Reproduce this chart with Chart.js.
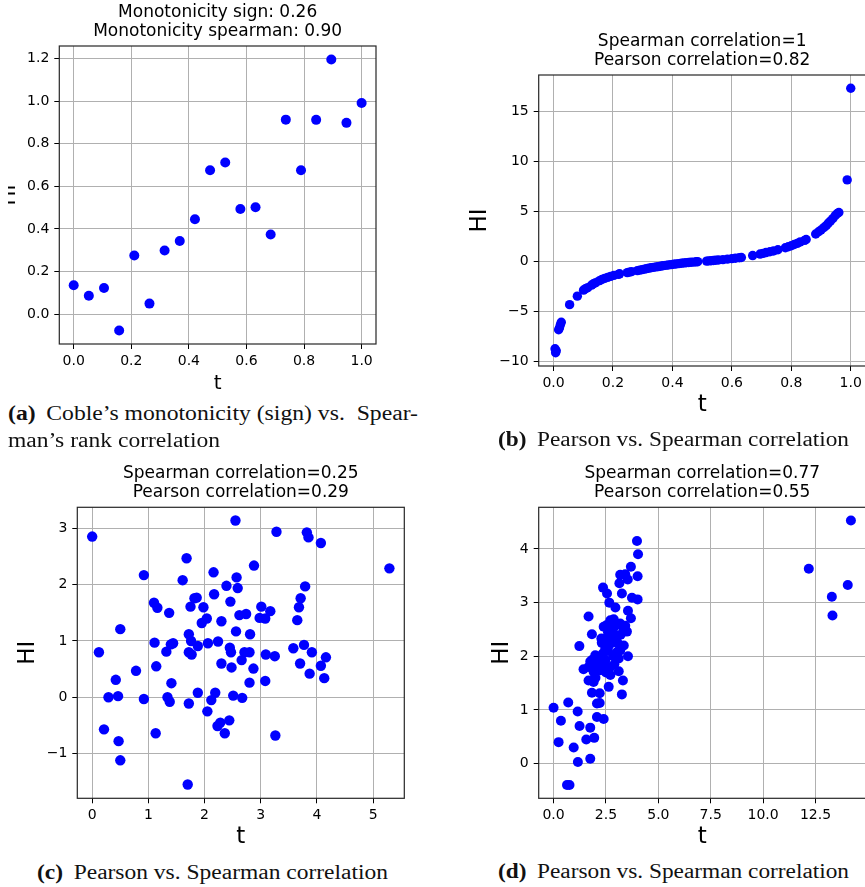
<!DOCTYPE html>
<html>
<head>
<meta charset="utf-8">
<script src="https://cdn.jsdelivr.net/npm/chart.js@4/dist/chart.umd.min.js"></script>
<style>
  html, body { margin:0; padding:0; background:#fff; }
  body { width:865px; height:887px; overflow:hidden; position:relative; }
  canvas { position:absolute; }
  .wrap { position:absolute; overflow:hidden; }
  .cap { position:absolute; white-space:nowrap; font-family:"Liberation Serif", "DejaVu Serif", serif; font-size:20px; line-height:20px; color:#111; transform-origin:0 0; }
  .cap b { margin-right:9px; }
</style>
</head>
<body>
<div class="wrap" style="left:8px;top:0;width:420px;height:400px;">
  <canvas id="cA" width="420" height="400" style="left:-8px;top:0;"></canvas>
</div>
<canvas id="cB" width="470" height="400" style="left:440px;top:30px;"></canvas>
<canvas id="cC" width="440" height="420" style="left:0;top:440px;"></canvas>
<canvas id="cD" width="470" height="420" style="left:440px;top:440px;"></canvas>

<div class="cap" data-w="410" style="left:8px;top:403px;"><b>(a)</b>Coble’s monotonicity (sign) vs.&nbsp; Spear-</div>
<div class="cap" data-w="212" style="left:8px;top:430px;">man’s rank correlation</div>
<div class="cap" data-w="351" style="left:498px;top:429px;"><b>(b)</b>Pearson vs. Spearman correlation</div>
<div class="cap" data-w="351" style="left:37px;top:862px;"><b>(c)</b>Pearson vs. Spearman correlation</div>
<div class="cap" data-w="351" style="left:498px;top:861px;"><b>(d)</b>Pearson vs. Spearman correlation</div>

<script>
// ---------- Panel (a) ----------
const aTitle = ["Monotonicity sign: 0.26", "Monotonicity spearman: 0.90"];
const aT  = [0, 0.0526, 0.1053, 0.1579, 0.2105, 0.2632, 0.3158, 0.3684, 0.4211, 0.4737, 0.5263, 0.5789, 0.6316, 0.6842, 0.7368, 0.7895, 0.8421, 0.8947, 0.9474, 1.0];
const aHI = [0.136, 0.087, 0.123, -0.076, 0.276, 0.050, 0.299, 0.344, 0.446, 0.676, 0.712, 0.494, 0.502, 0.374, 0.913, 0.676, 0.912, 1.195, 0.898, 0.991];
const aXTicks = [0, 0.2, 0.4, 0.6, 0.8, 1.0];
const aXTickLabels = ["0.0", "0.2", "0.4", "0.6", "0.8", "1.0"];
const aYTicks = [0, 0.2, 0.4, 0.6, 0.8, 1.0, 1.2];
const aYTickLabels = ["0.0", "0.2", "0.4", "0.6", "0.8", "1.0", "1.2"];

// ---------- Panel (b) ----------
const bTitle = ["Spearman correlation=1", "Pearson correlation=0.82"];
const bT = [0.005,0.007,0.009,0.017,0.020,0.023,0.026,0.054,0.080,0.101,
  0.108,0.115,0.128,0.135,0.142,0.155,0.163,0.172,0.182,0.192,
  0.203,0.218,0.222,0.248,0.255,0.262,0.282,0.290,0.298,0.306,
  0.313,0.320,0.328,0.336,0.345,0.352,0.360,0.368,0.377,0.386,
  0.395,0.404,0.412,0.421,0.430,0.438,0.446,0.455,0.463,0.472,
  0.480,0.485,0.515,0.522,0.530,0.538,0.546,0.555,0.570,0.585,
  0.600,0.612,0.625,0.632,0.670,0.695,0.705,0.715,0.728,0.740,
  0.755,0.780,0.790,0.800,0.810,0.820,0.830,0.845,0.850,0.882,
  0.892,0.900,0.910,0.918,0.925,0.932,0.940,0.948,0.955,0.960,
  0.988,1.0];
const bHI = [-8.7,-9.1,-8.9,-6.8,-6.6,-6.3,-6.05,-4.3,-3.45,-2.85,
  -2.7,-2.6,-2.35,-2.2,-2.1,-1.9,-1.78,-1.68,-1.58,-1.48,
  -1.38,-1.28,-1.22,-1.1,-1.05,-1.0,-0.9,-0.85,-0.8,-0.75,
  -0.7,-0.66,-0.62,-0.58,-0.53,-0.5,-0.46,-0.42,-0.38,-0.34,
  -0.3,-0.27,-0.24,-0.2,-0.17,-0.14,-0.12,-0.09,-0.07,-0.05,
  -0.02,-0.01,0.05,0.07,0.09,0.11,0.13,0.16,0.2,0.25,
  0.3,0.34,0.38,0.41,0.6,0.75,0.82,0.9,0.98,1.06,
  1.18,1.38,1.48,1.58,1.7,1.82,1.96,2.12,2.2,2.75,
  2.98,3.15,3.4,3.6,3.85,4.05,4.3,4.6,4.8,4.9,
  8.15,17.3];
const bXTicks = [0, 0.2, 0.4, 0.6, 0.8, 1.0];
const bXTickLabels = ["0.0", "0.2", "0.4", "0.6", "0.8", "1.0"];
const bYTicks = [-10, -5, 0, 5, 10, 15];
const bYTickLabels = ["\u221210", "\u22125", "0", "5", "10", "15"];

// ---------- Panel (c) ----------
const cTitle = ["Spearman correlation=0.25", "Pearson correlation=0.29"];
const cT = [0.00,0.12,0.21,0.29,0.42,0.46,0.47,0.50,0.50,0.78,
  0.92,0.92,1.10,1.11,1.16,1.14,1.13,1.32,1.37,1.34,
  1.38,1.41,1.40,1.44,1.61,1.68,1.72,1.72,1.75,1.76,
  1.77,1.72,1.70,1.82,1.86,1.88,1.88,1.98,1.95,2.04,
  2.06,2.05,2.16,2.17,2.19,2.12,2.24,2.23,2.28,2.30,
  2.30,2.36,2.39,2.44,2.46,2.45,2.47,2.48,2.51,2.55,
  2.57,2.59,2.56,2.62,2.66,2.67,2.74,2.71,2.81,2.80,
  2.87,2.80,2.88,3.01,2.98,3.08,3.09,3.08,3.17,3.25,
  3.28,3.26,3.58,3.65,3.68,3.71,3.70,3.77,3.79,3.82,
  3.85,3.87,3.91,4.07,4.07,4.16,4.13,5.29];
const cHI = [2.855,0.80,-0.57,0.00,0.31,0.02,-0.78,1.21,-1.12,0.47,
  2.17,-0.03,1.68,0.97,1.59,0.55,-0.64,0.81,1.50,0.00,
  -0.08,0.25,0.94,0.96,2.08,2.47,1.12,0.80,1.61,1.00,
  0.76,-0.11,-1.55,1.76,1.77,0.91,0.08,1.60,1.32,1.40,
  0.96,-0.25,2.22,1.83,0.08,-0.05,0.99,-0.51,-0.45,1.35,
  0.60,-0.64,1.98,-0.41,1.70,0.88,0.80,0.53,0.03,3.14,
  2.13,1.94,1.17,1.46,0.66,-0.01,1.48,0.80,1.12,0.80,
  0.51,0.26,2.34,1.61,1.41,1.40,0.76,0.29,1.53,0.73,
  2.94,-0.68,0.87,1.37,1.60,1.76,0.60,0.93,1.97,2.93,
  2.84,0.42,0.80,2.74,0.56,0.71,0.34,2.29];
const cXTicks = [0, 1, 2, 3, 4, 5];
const cXTickLabels = ["0", "1", "2", "3", "4", "5"];
const cYTicks = [-1, 0, 1, 2, 3];
const cYTickLabels = ["\u22121", "0", "1", "2", "3"];

// ---------- Panel (d) ----------
const dTitle = ["Spearman correlation=0.77", "Pearson correlation=0.55"];
const dT = [3.98,4.03,3.69,3.18,3.42,3.54,4.01,3.14,2.36,2.55,
  3.26,3.74,4.01,2.66,2.95,3.55,1.67,3.69,2.71,2.87,
  2.52,3.18,2.39,3.42,3.50,1.83,2.79,2.95,2.28,2.55,
  2.79,2.66,3.06,1.23,2.47,3.18,3.03,3.55,1.99,2.07,
  2.47,3.11,1.83,1.43,1.67,1.99,2.23,2.71,3.11,1.91,
  2.71,1.67,1.91,3.31,2.63,1.83,2.20,3.26,2.07,2.20,
  0.00,0.70,1.15,2.07,2.39,0.35,1.24,1.75,1.94,1.56,
  0.24,0.96,1.75,1.16,0.64,0.76,
  2.35,2.60,2.90,3.00,2.45,2.85,3.20,2.10,1.90,2.00,
  2.30,2.75,3.30,2.15,2.60,1.75,3.35,2.50,2.90,
  12.18,13.28,13.31,14.04,14.19];
const dHI = [4.15,3.90,3.67,3.52,3.53,3.43,3.49,3.36,3.28,3.17,
  3.17,3.09,3.06,3.00,2.91,2.85,2.74,2.71,2.67,2.69,
  2.58,2.61,2.55,2.57,2.46,2.41,2.43,2.39,2.33,2.35,
  2.27,2.21,2.24,2.19,2.15,2.11,2.08,2.00,2.02,1.99,
  1.93,1.96,1.93,1.76,1.80,1.83,1.74,1.80,1.72,1.71,
  1.65,1.55,1.52,1.55,1.43,1.32,1.31,1.29,1.12,1.13,
  1.04,1.14,0.97,0.87,0.83,0.80,0.70,0.67,0.48,0.45,
  0.40,0.30,0.09,0.03,-0.40,-0.40,
  2.05,2.45,2.55,2.30,1.85,2.00,2.40,1.90,1.85,1.60,
  2.25,2.50,2.55,1.75,2.10,1.90,2.20,1.70,1.85,
  3.63,3.11,2.76,3.33,4.53];
const dXTicks = [0, 2.5, 5, 7.5, 10, 12.5];
const dXTickLabels = ["0.0", "2.5", "5.0", "7.5", "10.0", "12.5"];
const dYTicks = [0, 1, 2, 3, 4];
const dYTickLabels = ["0", "1", "2", "3", "4"];

const xLabel = "t";
const yLabel = "HI";

// ---------- drawing helpers ----------
const textPlugin = {
  id: 'figText',
  afterDraw(chart, args, o) {
    const ctx = chart.ctx, ca = chart.chartArea;
    ctx.save();
    ctx.strokeStyle = '#262626';
    ctx.lineWidth = 1.2;
    ctx.strokeRect(ca.left, ca.top, ca.right - ca.left, ca.bottom - ca.top);
    ctx.fillStyle = '#000';
    ctx.textAlign = 'center';
    ctx.textBaseline = 'middle';
    const cx = (ca.left + ca.right) / 2;
    ctx.font = '17px "DejaVu Sans"';
    o.title.forEach((line, i) => ctx.fillText(line, cx, ca.top + o.titleY[i]));
    ctx.font = o.labelSize + 'px "DejaVu Sans"';
    ctx.fillText(o.xLabel, cx, ca.bottom + o.xLabelDy);
    ctx.translate(ca.left + o.yLabelDx, (ca.top + ca.bottom) / 2);
    ctx.rotate(-Math.PI / 2);
    ctx.fillText(o.yLabel, 0, 0);
    ctx.restore();
  }
};

function axis(min, max, ticks, labels, isX) {
  return {
    type: 'linear', min: min, max: max,
    afterBuildTicks: s => { s.ticks = ticks.map(v => ({ value: v })); },
    afterFit: s => {
      if (isX) s.height = 30; else s.width = 45;
      s.paddingTop = 0; s.paddingBottom = 0; s.paddingLeft = 0; s.paddingRight = 0;
    },
    grid: { color: '#b0b0b0', lineWidth: 1, drawTicks: true, tickLength: 5, tickColor: '#000', tickWidth: 1 },
    border: { display: false },
    ticks: {
      color: '#000', font: { family: 'DejaVu Sans', size: 14 },
      padding: isX ? 4 : 5, autoSkip: false, maxRotation: 0, minRotation: 0,
      callback: (v, i) => labels[i]
    }
  };
}

function makeChart(id, xs, ys, cfg) {
  const pts = xs.map((x, i) => ({ x: x, y: ys[i] }));
  return new Chart(document.getElementById(id), {
    type: 'scatter',
    data: { datasets: [{ data: pts, pointRadius: cfg.radius, pointBackgroundColor: '#0000ff', pointBorderWidth: 0, pointHoverRadius: cfg.radius, clip: false }] },
    options: {
      responsive: false, animation: false, devicePixelRatio: 1,
      layout: { padding: cfg.padding, autoPadding: false },
      plugins: {
        legend: { display: false }, tooltip: { enabled: false }, title: { display: false },
        figText: cfg.text
      },
      scales: {
        x: axis(cfg.xr[0], cfg.xr[1], cfg.xt, cfg.xl, true),
        y: axis(cfg.yr[0], cfg.yr[1], cfg.yt, cfg.yl, false)
      }
    },
    plugins: [textPlugin]
  });
}

makeChart('cA', aT, aHI, {
  radius: 5, padding: { left: 14.3, top: 46, right: 44, bottom: 26 },
  xr: [-0.05, 1.05], yr: [-0.1396, 1.2586], xt: aXTicks, xl: aXTickLabels, yt: aYTicks, yl: aYTickLabels,
  text: { title: aTitle, titleY: [-33, -14], xLabel: xLabel, yLabel: yLabel, xLabelDy: 39.7, yLabelDx: -49.3, labelSize: 20 }
});
makeChart('cB', bT, bHI, {
  radius: 4.7, padding: { left: 53.7, top: 45, right: 44.4, bottom: 34 },
  xr: [-0.05, 1.05], yr: [-10.42, 18.62], xt: bXTicks, xl: bXTickLabels, yt: bYTicks, yl: bYTickLabels,
  text: { title: bTitle, titleY: [-33.3, -14.7], xLabel: xLabel, yLabel: yLabel, xLabelDy: 39, yLabelDx: -58.7, labelSize: 23 }
});
makeChart('cC', cT, cHI, {
  radius: 5.2, padding: { left: 32.3, top: 67.3, right: 35.7, bottom: 31.7 },
  xr: [-0.265, 5.555], yr: [-1.795, 3.375], xt: cXTicks, xl: cXTickLabels, yt: cYTicks, yl: cYTickLabels,
  text: { title: cTitle, titleY: [-33.6, -14.3], xLabel: xLabel, yLabel: yLabel, xLabelDy: 38.4, yLabelDx: -49, labelSize: 23 }
});
makeChart('cD', dT, dHI, {
  radius: 5, padding: { left: 53.7, top: 67.3, right: 44.2, bottom: 31.7 },
  xr: [-0.71, 14.9], yr: [-0.6465, 4.7765], xt: dXTicks, xl: dXTickLabels, yt: dYTicks, yl: dYTickLabels,
  text: { title: dTitle, titleY: [-33.6, -14.3], xLabel: xLabel, yLabel: yLabel, xLabelDy: 38.4, yLabelDx: -37, labelSize: 23 }
});

// fit caption widths to the reference
document.querySelectorAll('.cap').forEach(el => {
  const w = el.getBoundingClientRect().width;
  const target = parseFloat(el.dataset.w);
  el.style.transform = 'scaleX(' + (target / w) + ')';
});
</script>
</body>
</html>
